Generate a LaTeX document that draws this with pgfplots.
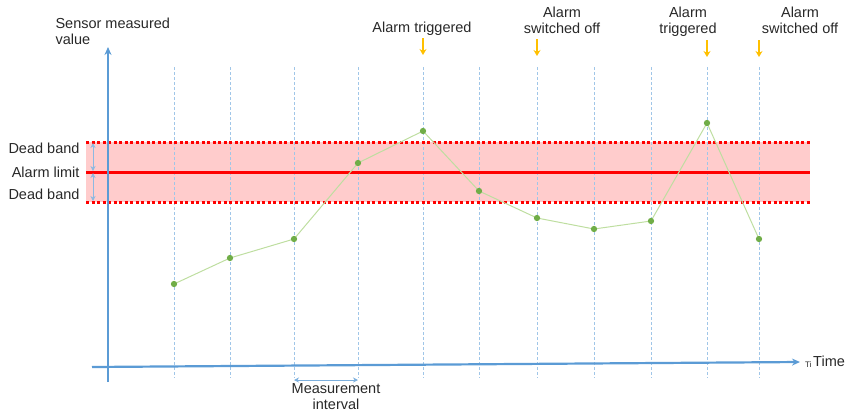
\documentclass[border=0pt]{standalone}
\usepackage{pgfplots}
\pgfplotsset{compat=1.18}
\usepackage{fontspec}
\setmainfont{Liberation Sans}
\usetikzlibrary{arrows.meta}
\definecolor{axblue}{RGB}{91,155,213}
\definecolor{gridblue}{RGB}{160,198,232}
\definecolor{bandpink}{RGB}{255,204,204}
\definecolor{mkgreen}{RGB}{112,173,71}
\definecolor{lngreen}{RGB}{190,222,160}
\definecolor{arrorange}{RGB}{255,192,0}
\definecolor{txt}{RGB}{40,40,40}
\tikzset{lbl/.style={font=\fontsize{14.5}{16}\selectfont, text=txt}}
\begin{document}
\begin{tikzpicture}
\begin{axis}[
  x=1pt, y=1pt,
  xmin=0, xmax=851, ymin=0, ymax=413,
  y dir=reverse,
  hide axis, clip=false,
]
\path (axis cs:0,0) rectangle (axis cs:851,413);
% band
\fill[bandpink] (axis cs:86,142) rectangle (axis cs:810,202);
% vertical dotted grid
\pgfplotsinvokeforeach{174,230,294,358,423,479,537,594,651,707,759}{
  \draw[gridblue, line width=1pt, dash pattern=on 2.5pt off 2.5pt] (axis cs:#1,67) -- (axis cs:#1,378);
}
% dead band borders and alarm limit
\addplot[red, line width=3pt, dash pattern=on 3pt off 2.5pt] coordinates {(86,142) (810,142)};
\addplot[red, line width=3pt, dash pattern=on 3pt off 2.5pt] coordinates {(86,202) (810,202)};
\addplot[red, line width=3pt] coordinates {(86,172) (810,172)};
% left dead band arrows
\draw[axblue!70, line width=0.8pt, {Stealth[length=5pt,width=5pt]}-{Stealth[length=5pt,width=5pt]}] (axis cs:93,143) -- (axis cs:93,171);
\draw[axblue!70, line width=0.8pt, {Stealth[length=5pt,width=5pt]}-{Stealth[length=5pt,width=5pt]}] (axis cs:93,173) -- (axis cs:93,201);
\node[lbl, anchor=east] at (axis cs:83,148) {Dead band};
\node[lbl, anchor=east] at (axis cs:83,172) {Alarm limit};
\node[lbl, anchor=east] at (axis cs:83,194) {Dead band};
% axes
\draw[axblue, line width=2.2pt, -{Stealth[length=8pt,width=7pt]}] (axis cs:108,382) -- (axis cs:108,47);
\draw[axblue, line width=2.2pt, -{Stealth[length=8pt,width=7pt]}] (axis cs:92,367) -- (axis cs:800,362);
\node[lbl, anchor=west, align=left] at (axis cs:52,31) {Sensor measured\\value};
\node[anchor=base west, inner sep=0pt, font=\fontsize{8}{9}\selectfont, text=txt] at (axis cs:805,367) {Ti};
\node[lbl, anchor=base west, inner sep=0pt] at (axis cs:813,366) {Time};
% measurement interval
\draw[axblue!80, line width=0.8pt, {Stealth[length=5pt,width=5pt]}-{Stealth[length=5pt,width=5pt]}] (axis cs:294,380) -- (axis cs:358,380);
\node[lbl, align=center] at (axis cs:336,397) {Measurement\\interval};
% data
\addplot[lngreen, line width=1pt, mark=*, mark size=2.6pt, mark options={fill=mkgreen, draw=mkgreen}] coordinates {
 (174,284) (230,258) (294,239) (358,163) (423,131) (479,191) (537,218) (594,229) (651,221) (707,123) (759,239)
};
% alarm annotations
\node[lbl] at (axis cs:422,29) {Alarm triggered};
\node[lbl, align=center] at (axis cs:562,20) {Alarm\\switched off};
\node[lbl, align=center] at (axis cs:688,22) {Alarm\\triggered};
\node[lbl, align=center] at (axis cs:800,20) {Alarm\\switched off};
\draw[arrorange, line width=1.6pt, -{Stealth[length=6pt,width=7pt]}] (axis cs:423,38) -- (axis cs:423,55);
\draw[arrorange, line width=1.6pt, -{Stealth[length=6pt,width=7pt]}] (axis cs:537,39) -- (axis cs:537,56);
\draw[arrorange, line width=1.6pt, -{Stealth[length=6pt,width=7pt]}] (axis cs:707,40) -- (axis cs:707,57);
\draw[arrorange, line width=1.6pt, -{Stealth[length=6pt,width=7pt]}] (axis cs:759,40) -- (axis cs:759,57);
\end{axis}
\end{tikzpicture}
\end{document}
